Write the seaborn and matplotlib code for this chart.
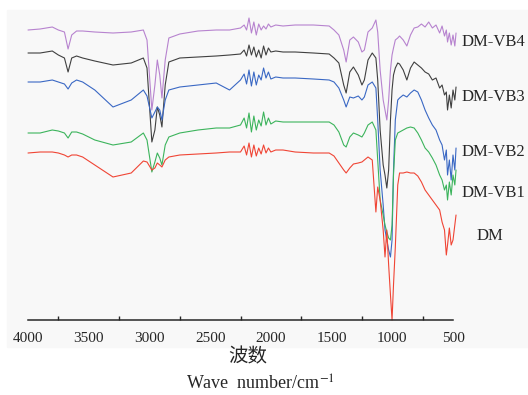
import numpy as np
import pandas as pd
import matplotlib
matplotlib.use('Agg')
import matplotlib.pyplot as plt
import seaborn as sns
from matplotlib.patches import Rectangle
from matplotlib.ticker import MultipleLocator

# 波数 (cm^-1)
wavenumber = [4000, 3900, 3800, 3750, 3700, 3670, 3640, 3600, 3550, 3450, 3300, 3150, 3050, 3020,
              2980, 2955, 2935, 2915, 2897, 2870, 2840, 2750, 2600, 2450, 2340, 2250, 2220, 2200,
              2180, 2160, 2140, 2120, 2100, 2080, 2060, 2040, 2020, 2000, 1960, 1900, 1800, 1650,
              1520, 1480, 1440, 1400, 1380, 1350, 1320, 1280, 1250, 1230, 1200, 1165, 1135, 1120,
              1100, 1075, 1060, 1045, 1030, 1015, 1002, 990, 975, 955, 940, 910, 880, 850, 820,
              790, 760, 730, 700, 670, 640, 610, 590, 570, 555, 545, 530, 515, 500, 485, 475]

# 吸收强度 (任意单位, 越大越向下), 读自原图
dm_vb4 = [30, 29, 27, 30, 32, 49, 35, 31, 31, 32, 33, 32, 30, 40,
          110, 85, 60, 75, 98, 60, 38, 34, 31, 30, 30, 28, 25, 30,
          18, 33, 22, 35, 24, 30, 26, 29, 24, 27, 25, 26, 25, 25,
          26, 30, 35, 50, 62, 40, 37, 42, 52, 50, 32, 28, 20, 32,
          70, 100, 110, 120, 100, 70, 55, 48, 40, 38, 36, 40, 46, 35, 28,
          27, 24, 27, 22, 28, 25, 33, 26, 36, 30, 42, 33, 45, 35, 46, 33]

dm_vb3 = [53, 53, 51, 55, 58, 72, 58, 56, 58, 61, 65, 63, 58, 68,
          142, 130, 107, 115, 127, 85, 62, 58, 57, 56, 55, 54, 50, 56,
          45, 55, 47, 57, 50, 58, 46, 55, 48, 52, 51, 52, 52, 53,
          54, 58, 63, 85, 93, 72, 67, 75, 85, 80, 60, 53, 58, 80,
          130, 165, 175, 188, 170, 120, 90, 75, 68, 63, 64, 70, 80, 68, 62,
          65, 68, 72, 74, 80, 78, 88, 85, 95, 92, 110, 95, 108, 90, 100, 87]

dm_vb2 = [82, 82, 80, 82, 84, 89, 83, 80, 82, 90, 107, 100, 90, 96,
          118, 112, 107, 110, 120, 100, 90, 87, 85, 83, 90, 80, 74, 84,
          70, 86, 72, 85, 75, 80, 68, 78, 72, 79, 77, 78, 78, 79,
          80, 82, 88, 100, 107, 97, 98, 96, 100, 97, 85, 82, 88, 120,
          170, 205, 230, 240, 250, 257, 240, 170, 120, 100, 98, 95, 97, 93, 90,
          92, 100, 110, 118, 125, 130, 140, 145, 160, 150, 175, 160, 180, 155, 170, 148]

dm_vb1 = [133, 133, 130, 131, 133, 138, 132, 132, 134, 140, 145, 142, 133, 140,
          172, 162, 153, 158, 165, 145, 137, 133, 130, 128, 128, 125, 118, 128,
          113, 132, 116, 130, 120, 126, 112, 125, 118, 124, 121, 122, 122, 122,
          122, 125, 132, 145, 147, 137, 133, 135, 137, 133, 125, 122, 130, 160,
          200, 215, 225, 232, 238, 240, 225, 175, 140, 133, 132, 130, 128, 127, 128,
          133, 140, 148, 152, 158, 165, 175, 180, 190, 185, 200, 182, 195, 175, 185, 170]

dm = [153, 152, 152, 153, 155, 157, 155, 155, 157, 165, 177, 173, 161, 162,
      170, 168, 163, 165, 167, 160, 157, 155, 154, 153, 152, 152, 146, 155,
      143, 157, 145, 156, 148, 154, 145, 153, 148, 152, 150, 150, 152, 153,
      153, 156, 163, 170, 173, 168, 164, 163, 162, 160, 157, 160, 212, 187,
      200, 230, 257, 230, 265, 295, 320, 285, 247, 185, 173, 173, 172, 173, 173,
      176, 182, 190, 195, 200, 205, 210, 222, 230, 255, 245, 228, 245, 240, 225, 215]

series = ['DM-VB4', 'DM-VB3', 'DM-VB2', 'DM-VB1', 'DM']
values = [dm_vb4, dm_vb3, dm_vb2, dm_vb1, dm]
colors = ['#b783cf', '#404040', '#3a68c4', '#3cb45c', '#f04535']
label_y = [42, 97, 152, 193, 236]
label_x = [462, 462, 462, 462, 477]

df = pd.concat([pd.DataFrame({'wn': wavenumber, 'val': v, 'sample': s})
                for s, v in zip(series, values)], ignore_index=True)

sns.set_style('white')
plt.rcParams['font.family'] = ['Liberation Serif', 'Noto Sans CJK SC']
plt.rcParams['mathtext.fontset'] = 'stix'

fig = plt.figure(figsize=(5.28, 3.95), dpi=100)
fig.patches.append(Rectangle((7 / 528, 48 / 395), 521 / 528, 337 / 395,
                             transform=fig.transFigure, color='#f8f8f8', zorder=-1))
ax = fig.add_axes([28 / 528, 75 / 395, 425 / 528, 310 / 395])
ax.patch.set_alpha(0)

sns.lineplot(data=df, x='wn', y='val', hue='sample', palette=dict(zip(series, colors)),
             estimator=None, sort=False, lw=0.8, legend=False, ax=ax)
for line in ax.lines:
    line.set_clip_on(False)

ax.set_xlim(4000, 500)
ax.set_ylim(320, 10)
ax.xaxis.set_major_locator(MultipleLocator(500))
ax.xaxis.set_minor_locator(MultipleLocator(250))
ax.tick_params(axis='x', which='major', direction='in', length=5, width=1, labelsize=11, pad=9)
ax.tick_params(axis='x', which='minor', direction='in', length=3, width=1, bottom=True)
ax.set_yticks([])
for side in ['top', 'left', 'right']:
    ax.spines[side].set_visible(False)
ax.spines['bottom'].set_linewidth(1.1)
ax.set_xlabel('')
ax.set_ylabel('')

for s, x, y in zip(series, label_x, label_y):
    fig.text(x / 528, 1 - y / 395, s, fontsize=12, va='center', ha='left')

fig.text(248 / 528, 1 - 357 / 395, '波数', fontsize=14, ha='center', va='center',
         family=['Noto Sans CJK SC'])
fig.text(260 / 528, 1 - 384 / 395, 'Wave  number/cm$^{-1}$', fontsize=13, ha='center', va='center')

fig.savefig('out.png', dpi=100)
